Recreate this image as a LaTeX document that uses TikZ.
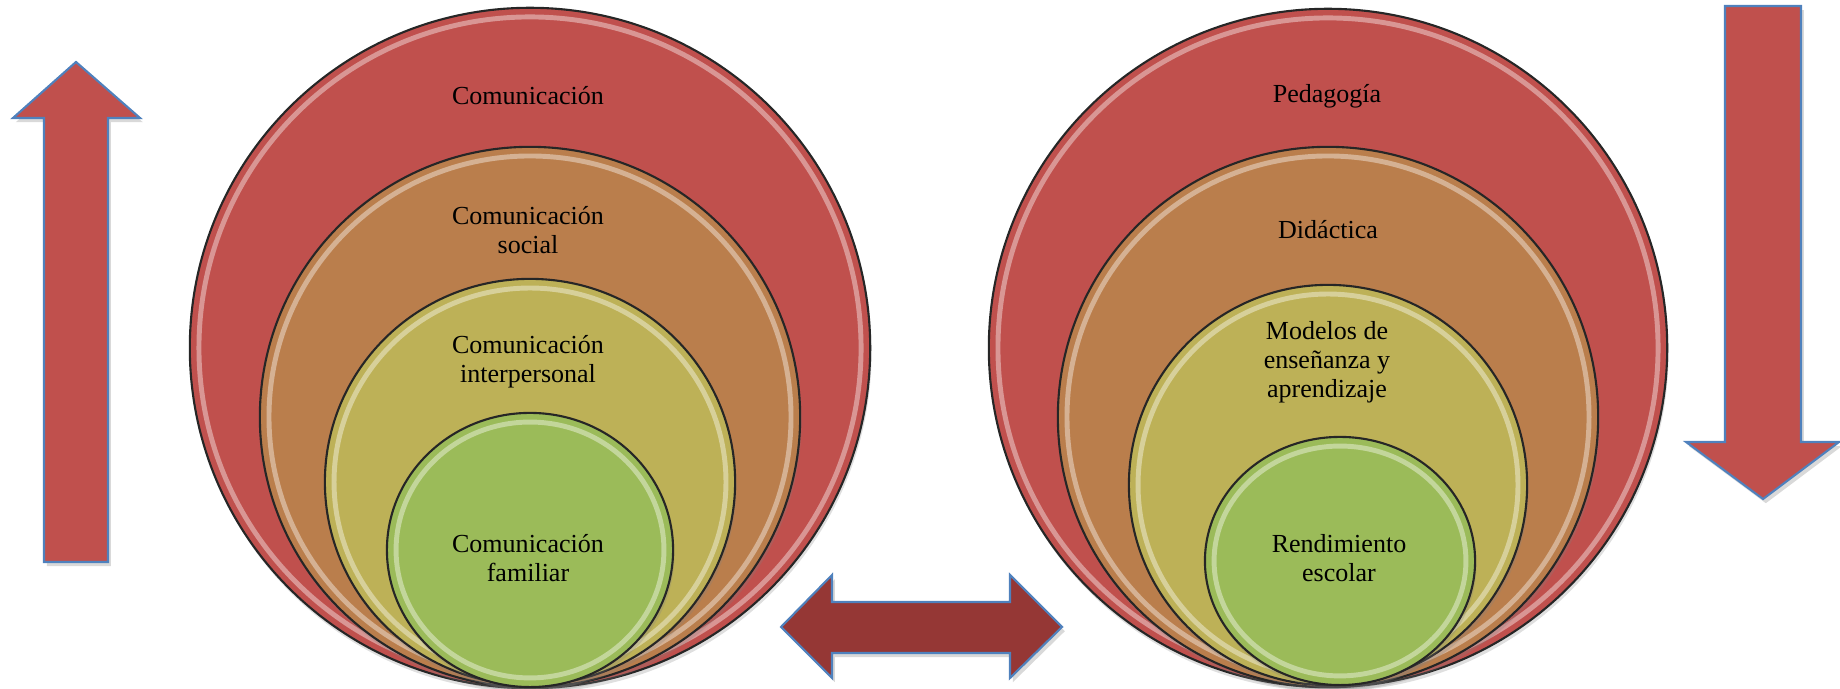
\documentclass[tikz,border=0pt]{standalone}
\usepackage{fontspec}
\setmainfont{Liberation Serif}
\usetikzlibrary{shapes.geometric,shadows,calc}
\definecolor{ringred}{HTML}{C0504D}
\definecolor{ringorange}{HTML}{BA7E4C}
\definecolor{ringyellow}{HTML}{BDB157}
\definecolor{ringgreen}{HTML}{9BBB59}
\definecolor{darkred}{HTML}{953735}
\definecolor{arrowblue}{HTML}{4F81BD}
\begin{document}
\begin{tikzpicture}[x=0.01cm,y=0.01cm]
    \tikzstyle{ring}=[draw=black!85,line width=0.6pt,shape=ellipse,inner sep=0pt,
      drop shadow={shadow xshift=0.4pt,shadow yshift=-1.2pt,opacity=.25},
      path picture={\draw[white,opacity=.4,line width=1.4pt]
        let \p1=(path picture bounding box.north east),\p2=(path picture bounding box.center) in
        (\p2) ellipse [x radius=\x1-\x2-2.6pt,y radius=\y1-\y2-2.6pt];}];
    \tikzstyle{lbl}=[align=center,inner sep=0pt,font=\fontsize{7.4}{8.2}\selectfont];
    \tikzstyle{blockarrow}=[draw=arrowblue,line width=0.6pt,line join=miter,
      drop shadow={shadow xshift=0.8pt,shadow yshift=-1.2pt,opacity=.3}];
    \useasboundingbox (0,0) rectangle (1840,689);
    % left rings
    \node[ring,fill=ringred,minimum width=6.8cm,minimum height=6.8cm] at (530, 341) (l1) {};
    \node[ring,fill=ringorange,minimum width=5.4cm,minimum height=5.4cm] at (530, 272) (l2) {};
    \node[ring,fill=ringyellow,minimum width=4.1cm,minimum height=4.06cm] at (530, 207) (l3) {};
    \node[ring,fill=ringgreen,minimum width=2.86cm,minimum height=2.74cm] at (530, 139) (l4) {};
    \node[lbl] at (528, 593) (tl1) {Comunicación};
    \node[lbl] at (528, 459) (tl2) {Comunicación\\social};
    \node[lbl] at (528, 327) (tl3) {Comunicación\\interpersonal};
    \node[lbl] at (528, 131) (tl4) {Comunicación\\familiar};
    % right rings
    \node[ring,fill=ringred,minimum width=6.78cm,minimum height=6.78cm] at (1328, 341) (r1) {};
    \node[ring,fill=ringorange,minimum width=5.4cm,minimum height=5.4cm] at (1328, 272) (r2) {};
    \node[ring,fill=ringyellow,minimum width=3.98cm,minimum height=4cm] at (1328, 204) (r3) {};
    \node[ring,fill=ringgreen,minimum width=2.7cm,minimum height=2.48cm] at (1340, 128) (r4) {};
    \node[lbl] at (1327, 593) (tr1) {Pedagogía};
    \node[lbl] at (1328, 459) (tr2) {Didáctica};
    \node[lbl] at (1327, 327) (tr3) {Modelos de\\enseñanza y\\aprendizaje};
    \node[lbl] at (1339, 131) (tr4) {Rendimiento\\escolar};
    % arrows
    \draw[blockarrow,fill=ringred] (44,127) -- (44,571) -- (13,571) -- (76,627)
      -- (140,571) -- (108,571) -- (108,127) -- cycle;
    \draw[blockarrow,fill=ringred] (1725,683) -- (1725,247) -- (1686,247) -- (1763,190)
      -- (1839,247) -- (1801,247) -- (1801,683) -- cycle;
    \draw[blockarrow,fill=darkred] (781,62) -- (832,114) -- (832,87) -- (1010,87)
      -- (1010,114) -- (1062,62) -- (1010,11) -- (1010,36) -- (832,36) -- (832,11) -- cycle;
\end{tikzpicture}
\end{document}
